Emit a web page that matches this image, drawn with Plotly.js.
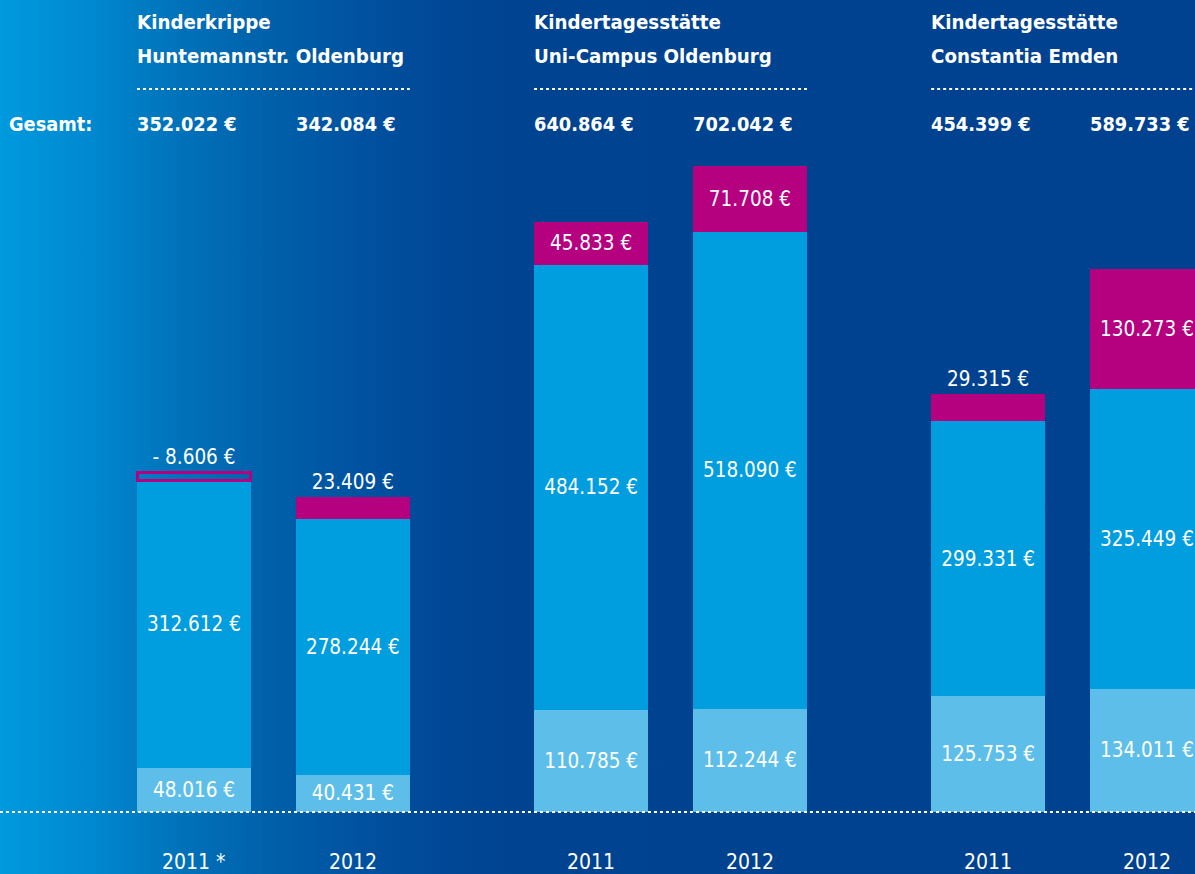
<!DOCTYPE html>
<html>
<head>
<meta charset="utf-8">
<script src="https://cdn.plot.ly/plotly-3.0.1.min.js"></script>
<style>
html,body{margin:0;padding:0;}
body{width:1195px;height:874px;overflow:hidden;
background:linear-gradient(to right,#009ade 0px,#0088d0 90px,#0072ba 180px,#0060aa 270px,#0052a0 360px,#004796 450px,#004391 520px,#004290 1195px);}
#chart{width:1195px;height:874px;}
</style>
</head>
<body>
<div id="chart"></div>
<script>
// ---- data ----
const groupLine1 = ["Kinderkrippe", "Kindertagesstätte", "Kindertagesstätte"];
const groupLine2 = ["Huntemannstr. Oldenburg", "Uni-Campus Oldenburg", "Constantia Emden"];
const years = ["2011 *", "2012", "2011", "2012", "2011", "2012"];
const baseVals = [48016, 40431, 110785, 112244, 125753, 134011];
const midVals = [312612, 278244, 484152, 518090, 299331, 325449];
const topVals = [-8606, 23409, 45833, 71708, 29315, 130273];
const totals = [352022, 342084, 640864, 702042, 454399, 589733];
const totalLabel = "Gesamt:";

// ---- helpers ----
function fmt(v){
  const s = String(Math.abs(v)).replace(/\B(?=(\d{3})+(?!\d))/g, ".");
  return (v < 0 ? "- " : "") + s + " €";
}
const FONT = "'DejaVu Sans Condensed', 'Liberation Sans Narrow', Roboto, sans-serif";
const W = 0.7177;
const xs = years.map((_, i) => Math.floor(i / 2) * 2.5 + (i % 2));
const PH = 812;
const py = p => 1 - p / PH;
const white = "#ffffff";
const cLight = "#5dbfe9", cMid = "#009ddf", cMag = "#b5007f";
const LBL = 20.5, HDR = 20.3, TOT = 19.8, YR = 21;

const traces = [
  {type:"bar", x:xs, y:baseVals, width:W, marker:{color:cLight},
   text:baseVals.map(fmt), textposition:"inside", insidetextanchor:"middle",
   textfont:{family:FONT, size:LBL, color:white}, hoverinfo:"skip"},
  {type:"bar", x:xs, y:midVals, width:W, marker:{color:cMid},
   text:midVals.map(fmt), textposition:"inside", insidetextanchor:"middle",
   textfont:{family:FONT, size:LBL, color:white}, hoverinfo:"skip"},
  {type:"bar", x:xs, y:topVals.map(Math.abs), width:W,
   marker:{color:topVals.map(v => v < 0 ? "rgba(0,0,0,0)" : cMag),
           line:{color:cMag, width:topVals.map(v => v < 0 ? 3 : 0)}},
   text:topVals.map(fmt),
   textposition:topVals.map(v => Math.abs(v) < 40000 ? "outside" : "inside"),
   insidetextanchor:"middle",
   textfont:{family:FONT, size:LBL, color:white}, hoverinfo:"skip"}
];

const annotations = [];
const shapes = [];
for (let g = 0; g < 3; g++) {
  const x0 = xs[2*g] - W/2, x1 = xs[2*g+1] + W/2;
  annotations.push({xref:"x", yref:"paper", x:x0, xshift:-2, y:py(22), xanchor:"left", yanchor:"middle",
    text:"<b>"+groupLine1[g]+"</b>", showarrow:false, font:{family:FONT, size:HDR, color:white}});
  annotations.push({xref:"x", yref:"paper", x:x0, xshift:-2, y:py(56), xanchor:"left", yanchor:"middle",
    text:"<b>"+groupLine2[g]+"</b>", showarrow:false, font:{family:FONT, size:HDR, color:white}});
  shapes.push({type:"line", xref:"x", yref:"paper", x0:x0, x1:x1, y0:py(89), y1:py(89),
    line:{color:white, width:2, dash:"dot"}});
}
annotations.push({xref:"paper", yref:"paper", x:0.006, y:py(125), xanchor:"left", yanchor:"middle",
  text:"<b>"+totalLabel+"</b>", showarrow:false, font:{family:FONT, size:TOT, color:white}});
totals.forEach((t, i) => {
  annotations.push({xref:"x", yref:"paper", x:xs[i] - W/2, xshift:-2, y:py(125), xanchor:"left", yanchor:"middle",
    text:"<b>"+fmt(t)+"</b>", showarrow:false, font:{family:FONT, size:TOT, color:white}});
});
years.forEach((yl, i) => {
  annotations.push({xref:"x", yref:"paper", x:xs[i], y:py(862), xanchor:"center", yanchor:"middle",
    text:yl, showarrow:false, font:{family:FONT, size:YR, color:white}});
});
shapes.push({type:"line", xref:"paper", yref:"paper", x0:0, x1:1, y0:0, y1:0,
  line:{color:white, width:2, dash:"dot"}, layer:"above"});

const layout = {
  width:1195, height:874,
  margin:{l:0, r:0, t:0, b:62, pad:0},
  paper_bgcolor:"rgba(0,0,0,0)", plot_bgcolor:"rgba(0,0,0,0)",
  barmode:"stack", showlegend:false,
  xaxis:{range:[-1.2214, 6.3023], visible:false, fixedrange:true},
  yaxis:{range:[0, 882400], visible:false, fixedrange:true},
  annotations:annotations, shapes:shapes,
  uniformtext:{mode:false}
};
Plotly.newPlot("chart", traces, layout, {displayModeBar:false, staticPlot:true});
</script>
</body>
</html>
